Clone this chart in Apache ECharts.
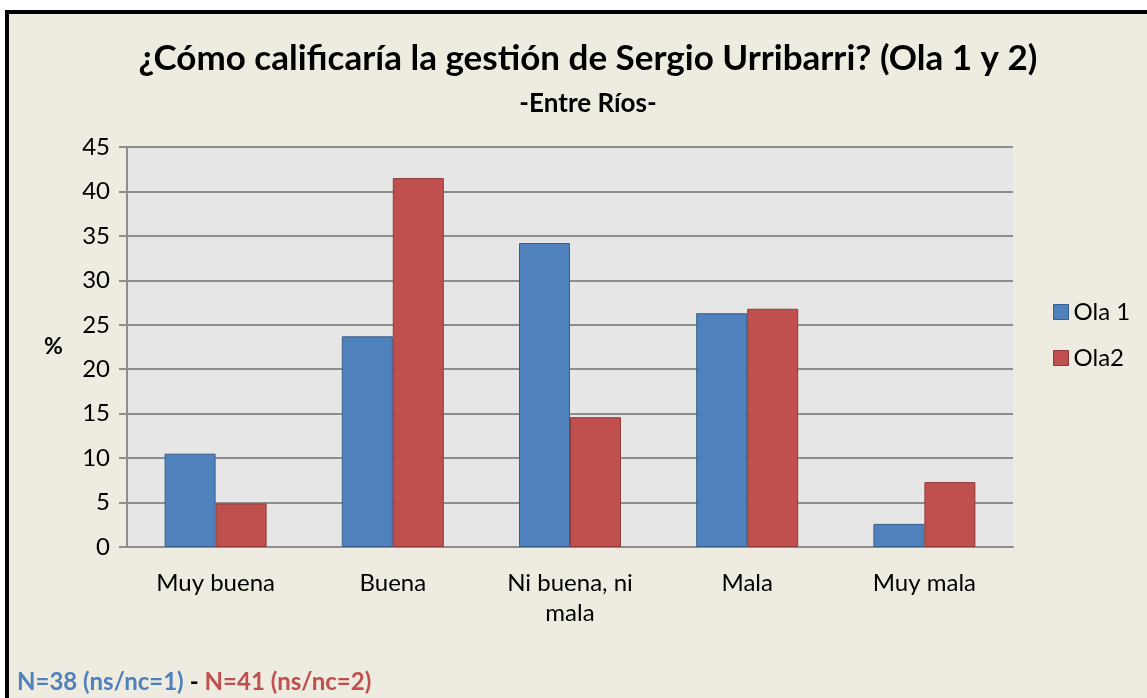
<!DOCTYPE html>
<html>
<head>
<meta charset="utf-8">
<script src="https://cdn.jsdelivr.net/npm/echarts@6/dist/echarts.min.js"></script>
<style>
html,body{margin:0;padding:0;background:#fff;}
#main{width:1147px;height:698px;}
</style>
</head>
<body>
<div id="main"></div>
<script>
// datos de la encuesta
var categorias = ['Muy buena', 'Buena', 'Ni buena, ni\nmala', 'Mala', 'Muy mala'];
var ola1 = [10.5, 23.7, 34.2, 26.3, 2.6];
var ola2 = [4.9, 41.5, 14.6, 26.8, 7.3];
var ticksY = [0, 5, 10, 15, 20, 25, 30, 35, 40, 45];

var fuente = 'Lato, "Open Sans", sans-serif';
var myChart = echarts.init(document.getElementById('main'));
var option = {
	backgroundColor: '#ffffff',
	textStyle: {fontFamily: fuente},
	graphic: [
		{type: 'rect', z: -10, shape: {x: 5, y: 10, width: 1142, height: 688}, style: {fill: '#EEEBE0'}},
		{type: 'rect', z: -9, shape: {x: 5, y: 10, width: 4, height: 688}, style: {fill: '#000'}},
		{type: 'rect', z: -9, shape: {x: 5, y: 10, width: 1142, height: 4}, style: {fill: '#000'}},
		{type: 'text', left: 44, top: 335, style: {text: '%', font: 'bold 23px ' + fuente, fill: '#000'}},
		{type: 'text', left: 17, top: 670, style: {
			text: '{a|N=38 (ns/nc=1)}{b|-}{c|N=41 (ns/nc=2)}',
			rich: {
				a: {fill: '#4F81BD', font: 'bold 24px ' + fuente, padding: [0, 6, 0, 0]},
				b: {fill: '#000', font: 'bold 24px ' + fuente, padding: [0, 6, 0, 0]},
				c: {fill: '#C0504D', font: 'bold 24px ' + fuente}
			}
		}}
	],
	title: [
		{text: '¿Cómo calificaría la gestión de Sergio Urribarri? (Ola 1 y 2)', left: 583, top: 36, textAlign: 'center',
			textStyle: {fontSize: 35, fontWeight: 'bold', color: '#000', fontFamily: fuente}},
		{text: '-Entre Ríos-', left: 583, top: 86, textAlign: 'center',
			textStyle: {fontSize: 26, fontWeight: 'bold', color: '#000', fontFamily: fuente}}
	],
	legend: {
		orient: 'vertical',
		left: 1048,
		top: 295,
		icon: 'rect',
		itemWidth: 15,
		itemHeight: 15,
		itemGap: 22,
		itemStyle: {borderWidth: 1},
		textStyle: {fontSize: 24, color: '#000', fontFamily: fuente},
		data: ['Ola 1', 'Ola2']
	},
	grid: {
		left: 127, right: 134, top: 147, bottom: 151,
		show: true, backgroundColor: '#E6E6E6', borderWidth: 0
	},
	xAxis: {
		type: 'category',
		data: categorias,
		axisLine: {lineStyle: {color: '#8E8E8E', width: 2}},
		axisTick: {show: false},
		axisLabel: {fontSize: 24, color: '#000', margin: 21, lineHeight: 30, fontFamily: fuente}
	},
	yAxis: {
		type: 'value',
		min: ticksY[0],
		max: ticksY[ticksY.length - 1],
		interval: 5,
		axisLine: {show: true, lineStyle: {color: '#8E8E8E', width: 2}},
		axisTick: {show: true, length: 8, lineStyle: {color: '#8E8E8E', width: 2}},
		axisLabel: {fontSize: 24, color: '#000', margin: 17, fontFamily: fuente},
		splitLine: {lineStyle: {color: '#8E8E8E', width: 2}}
	},
	series: [
		{
			name: 'Ola 1', type: 'bar', data: ola1,
			barWidth: 51, barGap: '0%',
			itemStyle: {color: '#4F81BD', borderColor: '#3A5F8C', borderWidth: 1}
		},
		{
			name: 'Ola2', type: 'bar', data: ola2,
			barWidth: 51, barGap: '0%',
			itemStyle: {color: '#C0504D', borderColor: '#8E3B39', borderWidth: 1}
		}
	]
};
myChart.setOption(option);
</script>
</body>
</html>
